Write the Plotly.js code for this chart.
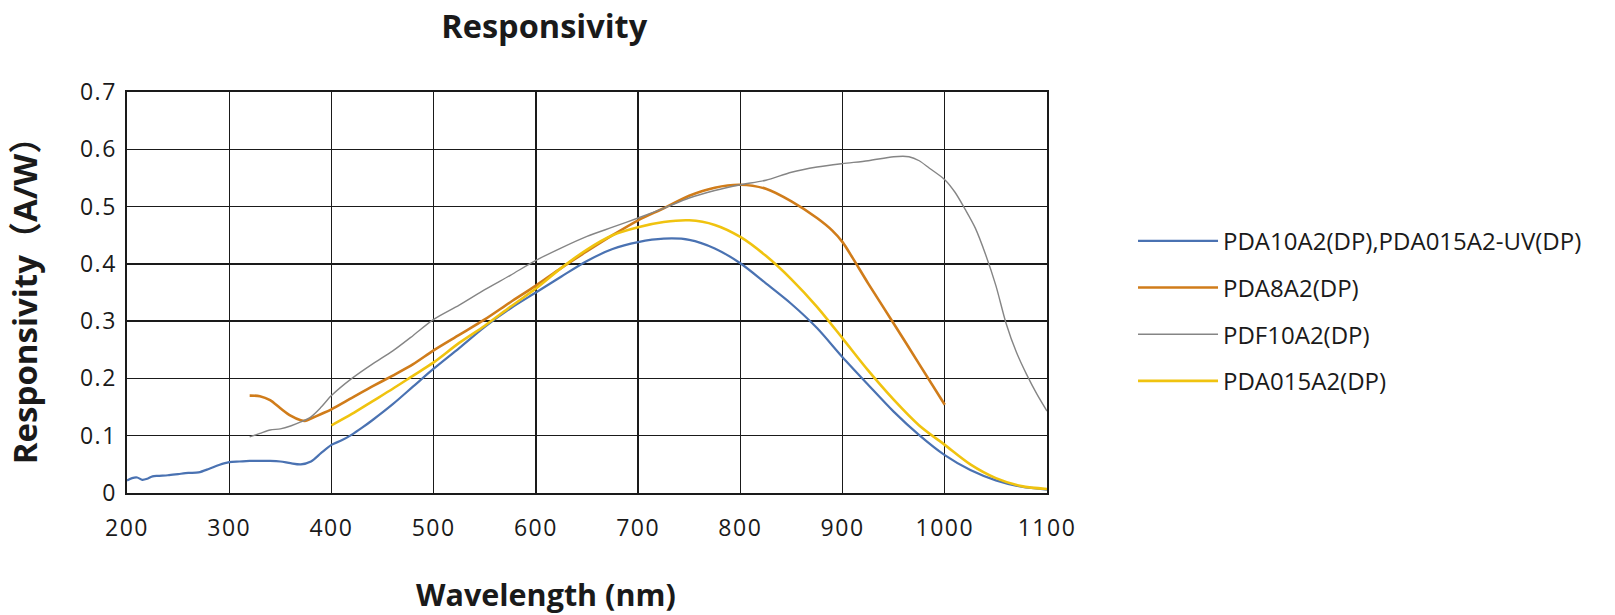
<!DOCTYPE html>
<html>
<head>
<meta charset="utf-8">
<script src="https://cdn.plot.ly/plotly-3.0.1.min.js"></script>
<style>
html,body{margin:0;padding:0;background:#fff;}
.xtick text, .ytick text{letter-spacing:1.5px;}
</style>
</head>
<body>
<div id="chart" style="width:1615px;height:615px;"></div>
<script>
// Series names
const seriesNames = [
  "PDA10A2(DP),PDA015A2-UV(DP)",
  "PDA8A2(DP)",
  "PDF10A2(DP)",
  "PDA015A2(DP)"
];

// PDA10A2(DP), PDA015A2-UV(DP)
const blueX = [200,205,210,215,220,225,230,240,250,260,270,280,290,300,310,320,330,340,350,360,370,380,390,400,410,420,430,440,460,480,500,525,550,575,600,625,650,675,700,725,750,775,800,825,850,875,900,925,950,975,1000,1025,1050,1075,1100];
const blueY = [0.022,0.026,0.027,0.023,0.025,0.029,0.030,0.031,0.033,0.035,0.036,0.042,0.049,0.054,0.055,0.056,0.056,0.056,0.055,0.052,0.050,0.055,0.070,0.084,0.092,0.102,0.114,0.127,0.155,0.186,0.217,0.253,0.290,0.322,0.350,0.378,0.405,0.426,0.438,0.444,0.442,0.427,0.401,0.366,0.330,0.288,0.237,0.189,0.142,0.101,0.066,0.040,0.022,0.011,0.006];

// PDA8A2(DP)
const orangeX = [320,330,340,350,360,370,375,380,390,400,420,440,460,480,500,525,550,575,600,625,650,675,700,725,750,775,800,825,850,875,890,900,910,925,950,975,1000];
const orangeY = [0.170,0.169,0.162,0.148,0.135,0.127,0.126,0.130,0.138,0.146,0.166,0.186,0.205,0.225,0.249,0.276,0.303,0.333,0.362,0.393,0.422,0.450,0.476,0.497,0.519,0.533,0.538,0.531,0.509,0.480,0.458,0.438,0.410,0.366,0.296,0.225,0.154];

// PDF10A2(DP)
const grayX = [320,330,340,350,360,370,380,390,400,420,440,460,480,500,525,550,575,600,625,650,675,700,725,750,775,800,825,850,875,900,925,950,965,975,985,1000,1010,1020,1030,1040,1050,1060,1070,1080,1090,1100];
const grayY = [0.098,0.104,0.110,0.112,0.117,0.124,0.133,0.150,0.170,0.200,0.225,0.248,0.275,0.303,0.328,0.355,0.380,0.406,0.428,0.448,0.464,0.480,0.497,0.515,0.528,0.538,0.546,0.560,0.569,0.575,0.580,0.587,0.587,0.580,0.567,0.547,0.525,0.495,0.462,0.416,0.362,0.296,0.246,0.207,0.173,0.143];

// PDA015A2(DP)
const yellowX = [400,420,440,460,480,500,525,550,575,600,625,650,675,700,725,750,775,800,825,850,875,900,925,950,975,1000,1025,1050,1075,1100];
const yellowY = [0.118,0.138,0.160,0.182,0.205,0.228,0.262,0.292,0.325,0.357,0.393,0.425,0.450,0.464,0.473,0.476,0.468,0.447,0.414,0.373,0.325,0.270,0.214,0.163,0.118,0.084,0.050,0.026,0.012,0.007];

const xTicks = [200,300,400,500,600,700,800,900,1000,1100];
const yTicks = [0,0.1,0.2,0.3,0.4,0.5,0.6,0.7];

const chartTitle = "Responsivity";
const xTitle = "Wavelength (nm)";
const yTitle = "Responsivity（A/W）";

const colors = ["#4a72b2", "#d07c1a", "#858585", "#f0c30f"];
const widths = [2.2, 2.6, 1.4, 2.6];
const xs = [blueX, orangeX, grayX, yellowX];
const ys = [blueY, orangeY, grayY, yellowY];

const traces = seriesNames.map((n, i) => ({
  type: "scatter",
  mode: "lines",
  name: n,
  legendgroup: "g" + i,
  x: xs[i],
  y: ys[i],
  line: {color: colors[i], width: widths[i], shape: "spline", smoothing: 0.8}
}));

const baseFont = "'Open Sans', 'Noto Sans CJK SC', sans-serif";

const layout = {
  width: 1615,
  height: 615,
  paper_bgcolor: "#ffffff",
  plot_bgcolor: "#ffffff",
  margin: {l: 127, r: 568, t: 92, b: 122},
  font: {family: baseFont, color: "#1a1a1a"},
  title: {
    text: "<b>" + chartTitle + "</b>",
    font: {family: baseFont, size: 32.5, color: "#1a1a1a"},
    x: 0.337, xanchor: "center", xref: "container",
    y: 0.956, yanchor: "middle", yref: "container"
  },
  xaxis: {
    range: [200, 1100],
    tickvals: xTicks,
    ticktext: xTicks.map(String),
    showgrid: true, gridcolor: "#1a1a1a", gridwidth: 1.4,
    showline: true, mirror: true, linecolor: "#1a1a1a", linewidth: 1.6,
    zeroline: false,
    ticks: "outside", ticklen: 14, tickcolor: "rgba(0,0,0,0)",
    tickfont: {family: baseFont, size: 23, color: "#1a1a1a"}
  },
  yaxis: {
    range: [0, 0.7],
    tickvals: yTicks,
    ticktext: yTicks.map(v => String(v)),
    showgrid: true, gridcolor: "#1a1a1a", gridwidth: 1.4,
    showline: true, mirror: true, linecolor: "#1a1a1a", linewidth: 1.6,
    zeroline: false,
    ticks: "outside", ticklen: 4, tickcolor: "rgba(0,0,0,0)",
    tickfont: {family: baseFont, size: 23, color: "#1a1a1a"},
    title: {text: "<b>" + yTitle + "</b>", font: {family: baseFont, size: 33, color: "#1a1a1a"}, standoff: 32}
  },
  annotations: [{
    text: "<b>" + xTitle + "</b>",
    xref: "paper", yref: "paper",
    x: 0.455, y: -0.252, xanchor: "center", yanchor: "middle",
    showarrow: false,
    font: {family: baseFont, size: 30.5, color: "#1a1a1a"}
  }],
  showlegend: true,
  legend: {
    x: 1.0935, xanchor: "left",
    y: 0.684, yanchor: "top",
    traceorder: "grouped",
    tracegroupgap: 12.5,
    itemwidth: 80,
    font: {family: baseFont, size: 24, color: "#1a1a1a"},
    bgcolor: "rgba(0,0,0,0)", borderwidth: 0
  }
};

Plotly.newPlot("chart", traces, layout, {displayModeBar: false, staticPlot: true});
</script>
</body>
</html>
